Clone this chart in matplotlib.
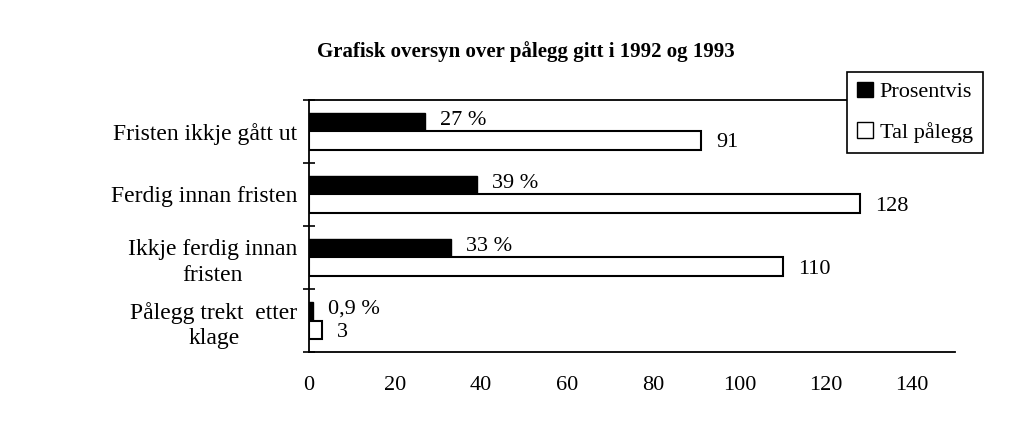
import numpy as np
import matplotlib
matplotlib.use("Agg")
import matplotlib.pyplot as plt
from matplotlib.patches import Patch

categories = ["Fristen ikkje gått ut", "Ferdig innan fristen",
              "Ikkje ferdig innan\nfristen", "Pålegg trekt  etter\nklage"]
prosent = [27, 39, 33, 0.9]
prosent_labels = ["27 %", "39 %", "33 %", "0,9 %"]
tal_palegg = [91, 128, 110, 3]
xticks = [0, 20, 40, 60, 80, 100, 120, 140]

plt.rcParams["font.family"] = ["Liberation Serif", "DejaVu Serif"]

fig = plt.figure(figsize=(10.12, 4.32), dpi=100)
ax = fig.add_axes([0.305, 0.185, 0.639, 0.584])

y = np.arange(len(categories))
h = 0.29
ax.barh(y - h / 2, prosent, height=h, color="black", edgecolor="black", linewidth=1)
ax.barh(y + h / 2, tal_palegg, height=h, color="white", edgecolor="black", linewidth=1.5)

for yi, v, lab in zip(y, prosent, prosent_labels):
    ax.text(v + 3.5, yi - h / 2 - 0.03, lab, ha="left", va="center", fontsize=16)
for yi, v in zip(y, tal_palegg):
    ax.text(v + 3.5, yi + h / 2 + 0.04, str(v), ha="left", va="center", fontsize=16)

ax.set_xlim(0, 150)
ax.set_ylim(len(categories) - 0.5, -0.5)
ax.set_yticks(y)
ax.set_yticklabels(categories, fontsize=17, ha="right", multialignment="center",
                   linespacing=1.3)
ax.set_yticks(np.arange(-0.5, len(categories)), minor=True)
ax.tick_params(axis="y", which="major", length=0, pad=8)
ax.tick_params(axis="y", which="minor", length=8, direction="inout", width=1.2)
ax.set_xticks(xticks)
ax.set_xticklabels([str(t) for t in xticks], fontsize=16)
ax.tick_params(axis="x", length=0, pad=17)

for s in ["left", "bottom", "top"]:
    ax.spines[s].set_linewidth(1.3)
ax.spines["right"].set_visible(False)

fig.text(0.52, 0.88, "Grafisk oversyn over pålegg gitt i 1992 og 1993",
         ha="center", va="center", fontsize=15, fontweight="bold")

handles = [Patch(facecolor="black", edgecolor="black"),
           Patch(facecolor="white", edgecolor="black")]
leg = fig.legend(handles, ["Prosentvis", "Tal pålegg"], loc="upper right",
                 bbox_to_anchor=(0.982, 0.86), fontsize=16, frameon=True,
                 fancybox=False, handlelength=0.7, handleheight=0.7,
                 handletextpad=0.3, borderpad=0.45, labelspacing=0.9)
leg.get_frame().set_edgecolor("black")
leg.get_frame().set_linewidth(1.2)
leg.get_frame().set_alpha(1)

plt.savefig("out.png", dpi=100)
